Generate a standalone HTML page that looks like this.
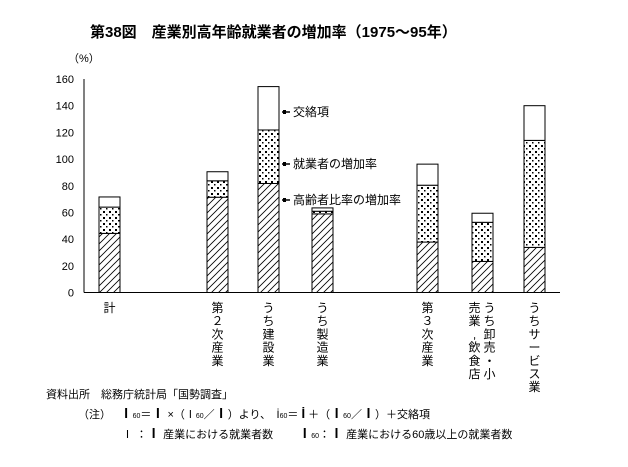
<!DOCTYPE html>
<html><head><meta charset="utf-8"><style>
body{margin:0;background:#fff;width:628px;height:462px;overflow:hidden;font-family:"Liberation Sans","Noto Sans CJK JP",sans-serif;}
svg text{font-family:"Liberation Sans","Noto Sans CJK JP",sans-serif;fill:#000}
</style></head><body>
<svg id="chart" width="628" height="462">
<defs>
<pattern id="hatch" width="7" height="7" patternUnits="userSpaceOnUse"><path d="M-1,8 L8,-1 M-1,1 L1,-1 M6,8 L8,6" stroke="#000" stroke-width="0.8"/></pattern>
<pattern id="dots" width="6" height="6" patternUnits="userSpaceOnUse"><rect width="6" height="6" fill="#fff"/><rect x="1" y="1" width="2" height="2" fill="#000"/><rect x="4" y="4" width="1.5" height="1.5" fill="#000"/></pattern>
</defs>
<text x="90" y="37" font-size="15" font-weight="bold">第38図　産業別高年齢就業者の増加率（1975〜95年）</text>
<text x="68" y="62" font-size="11">（%）</text>
<g id="axes"></g><g id="bars"></g><g id="labels"></g>
<g>
<line x1="282" y1="112" x2="290" y2="112" stroke="#000" stroke-width="1.5"/><rect x="283" y="110" width="3" height="4"/>
<text x="293" y="116" font-size="12">交絡項</text>
<line x1="282" y1="164" x2="290" y2="164" stroke="#000" stroke-width="1.5"/><rect x="283" y="162" width="3" height="4"/>
<text x="293" y="168" font-size="12">就業者の増加率</text>
<line x1="282" y1="200" x2="290" y2="200" stroke="#000" stroke-width="1.5"/><rect x="283" y="198" width="3" height="4"/>
<text x="293" y="204" font-size="12">高齢者比率の増加率</text>
</g>
<g font-size="11">
<text x="46" y="398">資料出所　総務庁統計局「国勢調査」</text>
<text x="78" y="418">（注）　 <tspan font-weight="bold" font-size="13">Ⅰ</tspan><tspan font-size="7">60</tspan>＝<tspan font-weight="bold" font-size="13">Ⅰ</tspan> ×（Ⅰ<tspan font-size="7">60</tspan>／<tspan font-weight="bold" font-size="13">Ⅰ</tspan>）より、　İ<tspan font-size="7">60</tspan>＝ <tspan font-weight="bold" font-size="13">İ</tspan> ＋（<tspan font-weight="bold" font-size="13">Ⅰ</tspan><tspan font-size="7">60</tspan>／<tspan font-weight="bold" font-size="13">Ⅰ</tspan>）＋交絡項</text>
<text x="122" y="438">Ⅰ ：<tspan font-weight="bold" font-size="13">Ⅰ</tspan> 産業における就業者数　　 <tspan font-weight="bold" font-size="13">Ⅰ</tspan><tspan font-size="7">60</tspan>：<tspan font-weight="bold" font-size="13">Ⅰ</tspan> 産業における60歳以上の就業者数</text>
</g>
</svg>
<script>
const categories=["計","第２次産業","うち建設業","うち製造業","第３次産業","売業,飲食店|うち卸売・小","うちサービス業"];
const ratioRise=[44.3,71.4,81.7,58.9,37.8,23.3,33.8];
const workerRise=[19.7,12.3,40.1,2.0,42.6,29.3,80.2];
const crossTerm=[7.6,6.8,32.5,2.5,15.8,6.8,26.0];
const yTicks=[0,20,40,60,80,100,120,140,160];
const catX=[99,207,258,312,417,472,524];
const NS="http://www.w3.org/2000/svg";
const y0=292.5,yScale=213.5/160,left=84,right=560,bw=21;
const Y=v=>y0-v*yScale;
function mk(t,a,p){const e=document.createElementNS(NS,t);for(const k in a)e.setAttribute(k,a[k]);p.appendChild(e);return e;}
const ax=document.getElementById('axes');
const xl=mk('line',{x1:left,y1:y0,x2:right,y2:y0,stroke:'#000'},ax);


const yl=mk('line',{x1:left,y1:Y(160),x2:left,y2:y0,stroke:'#000'},ax);


yTicks.forEach(v=>{
 const t=mk('text',{x:74,y:Y(v)+4,'font-size':11,'text-anchor':'end'},ax);t.textContent=v;
 
 
});
const bg=document.getElementById('bars'),lg=document.getElementById('labels');
categories.forEach((c,i)=>{
 const x=catX[i];
 const a=ratioRise[i],b=a+workerRise[i],d=b+crossTerm[i];
 const r1=mk('rect',{x:x,y:Y(a),width:bw,height:Y(0)-Y(a),fill:'url(#hatch)',stroke:'#000','stroke-width':1},bg);
 
 
 const r2=mk('rect',{x:x,y:Y(b),width:bw,height:Y(a)-Y(b),fill:'url(#dots)',stroke:'#000','stroke-width':1},bg);
 
 
 const r3=mk('rect',{x:x,y:Y(d),width:bw,height:Y(b)-Y(d),fill:'#fff',stroke:'#000','stroke-width':1},bg);
 
 
 const cols=c.split('|');
 cols.forEach((col,j)=>{
  const cx=x+bw/2+(cols.length>1?(j===0?-8:7):0);
  [...col].forEach((ch,k)=>{
   const t=mk('text',{x:cx,y:312+k*13.2,'font-size':12,'text-anchor':'middle'},lg);t.textContent=ch;
   
   
  });
 });
});
</script>
</body></html>
